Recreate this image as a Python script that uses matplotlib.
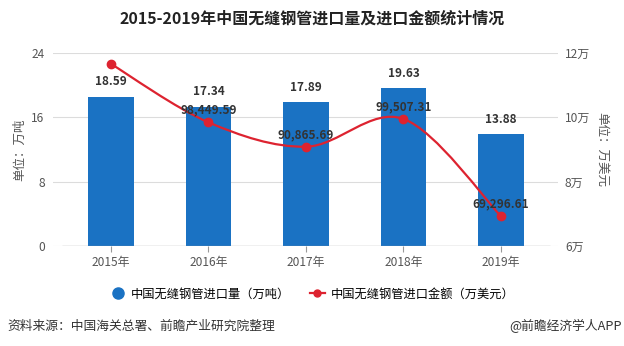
import matplotlib
matplotlib.use("Agg")
import matplotlib.pyplot as plt
from matplotlib.path import Path
from matplotlib.patches import PathPatch
from matplotlib.lines import Line2D
from matplotlib.ticker import FuncFormatter

plt.rcParams["font.family"] = ["Noto Sans CJK SC", "DejaVu Sans"]

years = ["2015年", "2016年", "2017年", "2018年", "2019年"]
volume = [18.59, 17.34, 17.89, 19.63, 13.88]          # 万吨
amount = [116600, 98449.59, 90865.69, 99507.31, 69296.61]  # 万美元
amount_labels = [None, "98,449.59", "90,865.69", "99,507.31", "69,296.61"]

bar_color = "#1a72c3"
line_color = "#dd2330"
text_gray = "#555555"
grid_gray = "#dcdcdc"


def smooth_path(xs, ys):
    # Catmull-Rom segments turned into cubic bezier pieces
    pts = list(zip(xs, ys))
    n = len(pts)
    verts = [pts[0]]
    codes = [Path.MOVETO]
    for i in range(n - 1):
        p0 = pts[i - 1] if i > 0 else pts[i]
        p1 = pts[i]
        p2 = pts[i + 1]
        p3 = pts[i + 2] if i + 2 < n else pts[i + 1]
        c1 = (p1[0] + (p2[0] - p0[0]) / 6, p1[1] + (p2[1] - p0[1]) / 6)
        c2 = (p2[0] - (p3[0] - p1[0]) / 6, p2[1] - (p3[1] - p1[1]) / 6)
        verts += [c1, c2, p2]
        codes += [Path.CURVE4] * 3
    return Path(verts, codes)


fig = plt.figure(figsize=(6.24, 3.46), dpi=100)
ax = fig.add_axes([53 / 624, 100 / 346, 505 / 624, 193 / 346])
x = list(range(len(years)))

ax.bar(x, volume, width=0.47, color=bar_color, zorder=2)
for xi, v in zip(x, volume):
    ax.annotate(f"{v:.2f}", (xi, v), xytext=(0, 6), textcoords="offset points",
                ha="center", va="bottom", fontsize=8.5, fontweight="bold", color="#333333")

ax.set_ylim(0, 24)
ax.set_yticks([0, 8, 16, 24])
ax.set_xlim(-0.595, 4.585)
ax.set_xticks(x)
ax.set_xticklabels(years)
ax.grid(axis="y", color=grid_gray, linewidth=0.8, zorder=0)
ax.hlines(0, -0.5, 4.5, color="#999999", linewidth=0.9, zorder=3)
for s in ax.spines.values():
    s.set_visible(False)
ax.tick_params(axis="y", length=0, labelsize=8.6, labelcolor=text_gray, pad=6)
ax.tick_params(axis="x", length=4, color="#999999", labelsize=8.6, labelcolor=text_gray, pad=3)
ax.set_ylabel("单位：万吨", fontsize=9, color=text_gray, labelpad=4)

ax2 = ax.twinx()
ax2.set_ylim(60000, 120000)
ax2.set_yticks([60000, 80000, 100000, 120000])
ax2.yaxis.set_major_formatter(FuncFormatter(lambda v, _: f"{int(v / 10000)}万"))
for s in ax2.spines.values():
    s.set_visible(False)
ax2.tick_params(axis="y", length=0, labelsize=8.6, labelcolor=text_gray, pad=5)
ax2.set_ylabel("单位：万美元", fontsize=9, color=text_gray, rotation=270, labelpad=13)

ax2.add_patch(PathPatch(smooth_path(x, amount), facecolor="none",
                        edgecolor=line_color, linewidth=1.6, zorder=3))
ax2.plot(x, amount, linestyle="none", marker="o", markersize=6,
         color=line_color, zorder=4)
for xi, v, lab in zip(x, amount, amount_labels):
    if lab:
        ax2.annotate(lab, (xi, v), xytext=(0, 4), textcoords="offset points",
                     ha="center", va="bottom", fontsize=8.5, fontweight="bold", color="#333333")

fig.text(0.5, 1 - 19 / 346, "2015-2019年中国无缝钢管进口量及进口金额统计情况",
         ha="center", va="center", fontsize=11.5, fontweight="bold", color="#222222")

handles = [
    Line2D([], [], linestyle="none", marker="o", markersize=8, color=bar_color),
    Line2D([], [], color=line_color, linewidth=1.6, marker="o", markersize=5),
]
fig.legend(handles, ["中国无缝钢管进口量（万吨）", "中国无缝钢管进口金额（万美元）"],
           loc="center", bbox_to_anchor=(0.5, 1 - 294 / 346), ncol=2, frameon=False,
           fontsize=8.8, handlelength=1.3, columnspacing=1.6, handletextpad=0.4)

fig.text(7 / 624, 1 - 326 / 346, "资料来源：中国海关总署、前瞻产业研究院整理",
         ha="left", va="center", fontsize=9.2, color="#333333")
fig.text(622 / 624, 1 - 326 / 346, "@前瞻经济学人APP",
         ha="right", va="center", fontsize=9.2, color="#333333")

fig.savefig("out.png", dpi=100)
